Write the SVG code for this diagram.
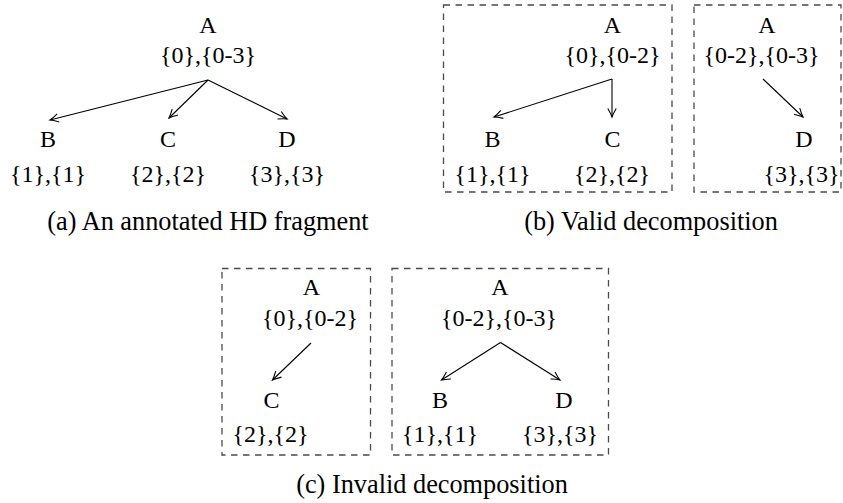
<svg xmlns="http://www.w3.org/2000/svg" width="843" height="503" viewBox="0 0 843 503">
  <style>
    text { font-family: "Liberation Serif", "Times New Roman", serif; fill: #000; text-anchor: middle; }
    .lbl { font-size: 24px; }
    .cap { font-size: 26.3px; }
    .edge { stroke: #000; stroke-width: 1.1; fill: none; marker-end: url(#arr); }
    .frame { stroke: #4a4a4a; stroke-width: 1.3; fill: none; stroke-dasharray: 6.5 5.5; }
  </style>
  <defs>
    <marker id="arr" markerWidth="12" markerHeight="12" refX="0" refY="0" viewBox="-10 -6 12 12" markerUnits="userSpaceOnUse" orient="auto">
      <path d="M -8.5 -4.2 Q -3 -1 0 0 Q -3 1 -8.5 4.2" fill="none" stroke="#000" stroke-width="1.1"/>
    </marker>
  </defs>

  <rect width="843" height="503" fill="#fff"/>

  <!-- (a) annotated fragment -->
  <g id="a-A"><text class="lbl" x="208" y="33">A</text><text class="lbl" x="208" y="63">{0},{0-3}</text></g>
  <g id="a-B"><text class="lbl" x="48" y="147">B</text><text class="lbl" x="48" y="182">{1},{1}</text></g>
  <g id="a-C"><text class="lbl" x="168" y="147">C</text><text class="lbl" x="168" y="182">{2},{2}</text></g>
  <g id="a-D"><text class="lbl" x="287" y="147">D</text><text class="lbl" x="287" y="182">{3},{3}</text></g>
  <text class="cap" x="208" y="230">(a) An annotated HD fragment</text>

  <!-- (b) valid decomposition -->
  <rect id="b-frame1" class="frame" x="443.5" y="5" width="228.5" height="187"/>
  <rect id="b-frame2" class="frame" x="694" y="5" width="147" height="187"/>
  <g id="b1-A"><text class="lbl" x="612.5" y="33">A</text><text class="lbl" x="612.5" y="63">{0},{0-2}</text></g>
  <g id="b1-B"><text class="lbl" x="492.5" y="147">B</text><text class="lbl" x="492.5" y="182">{1},{1}</text></g>
  <g id="b1-C"><text class="lbl" x="612.5" y="147">C</text><text class="lbl" x="612" y="182">{2},{2}</text></g>
  <g id="b2-A"><text class="lbl" x="767" y="33">A</text><text class="lbl" x="761.5" y="63">{0-2},{0-3}</text></g>
  <g id="b2-D"><text class="lbl" x="804" y="147">D</text><text class="lbl" x="801.5" y="182">{3},{3}</text></g>
  <text class="cap" x="651" y="230">(b) Valid decomposition</text>

  <!-- (c) invalid decomposition -->
  <rect id="c-frame1" class="frame" x="222" y="268.5" width="148.5" height="186.5"/>
  <rect id="c-frame2" class="frame" x="392" y="268.5" width="216.5" height="186.5"/>
  <g id="c1-A"><text class="lbl" x="311.5" y="295">A</text><text class="lbl" x="310" y="326">{0},{0-2}</text></g>
  <g id="c1-C"><text class="lbl" x="271.5" y="408">C</text><text class="lbl" x="270.5" y="442">{2},{2}</text></g>
  <g id="c2-A"><text class="lbl" x="500" y="295">A</text><text class="lbl" x="499" y="326">{0-2},{0-3}</text></g>
  <g id="c2-B"><text class="lbl" x="440" y="408">B</text><text class="lbl" x="440" y="442">{1},{1}</text></g>
  <g id="c2-D"><text class="lbl" x="564" y="408">D</text><text class="lbl" x="560" y="442">{3},{3}</text></g>
  <text class="cap" x="432" y="493">(c) Invalid decomposition</text>

  <!-- connectors -->
  <g id="connectors">
    <line class="edge" x1="208" y1="80" x2="50" y2="120"/>
    <line class="edge" x1="208" y1="80" x2="169" y2="118"/>
    <line class="edge" x1="208" y1="80" x2="287" y2="119"/>
    <line class="edge" x1="612" y1="79" x2="494" y2="117"/>
    <line class="edge" x1="612" y1="79" x2="612" y2="117"/>
    <line class="edge" x1="763" y1="79" x2="803" y2="117"/>
    <line class="edge" x1="311" y1="343" x2="272.5" y2="380"/>
    <line class="edge" x1="500.5" y1="342.5" x2="441.5" y2="380"/>
    <line class="edge" x1="500.5" y1="342.5" x2="560" y2="380"/>
  </g>
</svg>
